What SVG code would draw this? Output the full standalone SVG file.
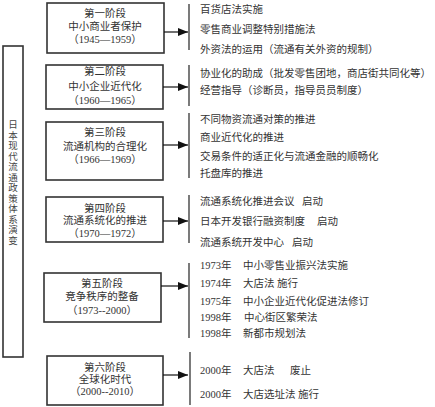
<svg xmlns="http://www.w3.org/2000/svg" width="435" height="407" viewBox="0 0 435 407">
<defs>
<marker id="ah" markerWidth="10" markerHeight="8" refX="10" refY="4" orient="auto" markerUnits="userSpaceOnUse">
<path d="M0,0 L10,4 L0,8 Z" fill="#111"/>
</marker>
</defs>
<style>
.box{fill:#fff;stroke:#333;stroke-width:1.6}
.bar{stroke:#222;stroke-width:1.2;fill:none}
.arr{stroke:#111;stroke-width:1.2;fill:none;marker-end:url(#ah)}
text{font-family:"Liberation Serif","Noto Sans CJK SC",serif;font-size:10.5px;fill:#333;dominant-baseline:central}
.c{text-anchor:middle}
.v{font-size:9.5px;fill:#444}
</style>
<rect width="435" height="407" fill="#fff"/>
<g id="title">
<rect class="box" x="3" y="46" width="20" height="311"/>
<text class="c v" x="13" y="125">日</text>
<text class="c v" x="13" y="135.5">本</text>
<text class="c v" x="13" y="146">现</text>
<text class="c v" x="13" y="156.5">代</text>
<text class="c v" x="13" y="167">流</text>
<text class="c v" x="13" y="177.5">通</text>
<text class="c v" x="13" y="188">政</text>
<text class="c v" x="13" y="198.5">策</text>
<text class="c v" x="13" y="209">体</text>
<text class="c v" x="13" y="219.5">系</text>
<text class="c v" x="13" y="230">演</text>
<text class="c v" x="13" y="240.5">变</text>
</g>
<g id="stage1">
<rect class="box" x="47" y="3" width="117" height="50"/>
<text class="c" x="105" y="13">第一阶段</text>
<text class="c" x="105" y="26">中小商业者保护</text>
<text class="c" x="105" y="39">（1945—1959）</text>
</g>
<g id="stage2">
<rect class="box" x="46" y="65" width="117" height="44"/>
<text class="c" x="105" y="71">第二阶段</text>
<text class="c" x="105" y="86">中小企业近代化</text>
<text class="c" x="105" y="100">（1960—1965）</text>
</g>
<g id="stage3">
<rect class="box" x="46" y="122" width="117" height="58"/>
<text class="c" x="105" y="132">第三阶段</text>
<text class="c" x="105" y="146">流通机构的合理化</text>
<text class="c" x="105" y="159">（1966—1969）</text>
</g>
<g id="stage4">
<rect class="box" x="46" y="197" width="117" height="45"/>
<text class="c" x="105" y="208">第四阶段</text>
<text class="c" x="105" y="220">流通系统化的推进</text>
<text class="c" x="105" y="233">（1970—1972）</text>
</g>
<g id="stage5">
<rect class="box" x="44" y="273" width="117" height="49"/>
<text class="c" x="102" y="283">第五阶段</text>
<text class="c" x="102" y="296">竞争秩序的整备</text>
<text class="c" x="102" y="310">（1973--2000）</text>
</g>
<g id="stage6">
<rect class="box" x="47" y="356" width="116" height="49"/>
<text class="c" x="105" y="367">第六阶段</text>
<text class="c" x="105" y="379">全球化时代</text>
<text class="c" x="105" y="391">（2000--2010）</text>
</g>
<g id="connectors">
<line class="arr" x1="164" y1="32" x2="188" y2="32"/>
<line class="bar" x1="189" y1="4" x2="189" y2="50"/>
<line class="arr" x1="163" y1="87" x2="188" y2="87"/>
<line class="bar" x1="189" y1="65" x2="189" y2="106"/>
<line class="arr" x1="163" y1="145" x2="188" y2="145"/>
<line class="bar" x1="189" y1="113" x2="189" y2="178"/>
<line class="arr" x1="163" y1="221" x2="188" y2="221"/>
<line class="bar" x1="189" y1="195" x2="189" y2="243"/>
<line class="arr" x1="161" y1="286" x2="188" y2="286"/>
<line class="bar" x1="189" y1="263" x2="189" y2="338"/>
<line class="arr" x1="163" y1="375" x2="188" y2="375"/>
<line class="bar" x1="190" y1="352" x2="190" y2="405"/>
</g>
<g id="items1">
<text x="200" y="9">百货店法实施</text>
<text x="200" y="29">零售商业调整特别措施法</text>
<text x="200" y="49">外资法的运用（流通有关外资的规制）</text>
</g>
<g id="items2">
<text x="200" y="73">协业化的助成（批发零售团地，商店街共同化等）</text>
<text x="200" y="90">经营指导（诊断员，指导员员制度）</text>
</g>
<g id="items3">
<text x="200" y="119">不同物资流通对策的推进</text>
<text x="200" y="137">商业近代化的推进</text>
<text x="200" y="156">交易条件的适正化与流通金融的顺畅化</text>
<text x="200" y="173">托盘库的推进</text>
</g>
<g id="items4">
<text x="200" y="201">流通系统化推进会议</text>
<text x="302" y="201">启动</text>
<text x="200" y="221">日本开发银行融资制度</text>
<text x="317" y="221">启动</text>
<text x="200" y="242">流通系统开发中心</text>
<text x="292" y="242">启动</text>
</g>
<g id="items5">
<text x="200" y="265">1973年</text><text x="243" y="265">中小零售业振兴法实施</text>
<text x="200" y="283">1974年</text><text x="243" y="283">大店法</text><text x="277" y="283">施行</text>
<text x="200" y="301">1975年</text><text x="243" y="301">中小企业近代化促进法修订</text>
<text x="200" y="317">1998年</text><text x="244" y="317">中心街区繁荣法</text>
<text x="200" y="333">1998年</text><text x="243" y="333">新都市规划法</text>
</g>
<g id="items6">
<text x="200" y="370">2000年</text><text x="243" y="370">大店法</text><text x="290" y="370">废止</text>
<text x="200" y="394">2000年</text><text x="243" y="394">大店选址法</text><text x="298" y="394">施行</text>
</g>
</svg>
